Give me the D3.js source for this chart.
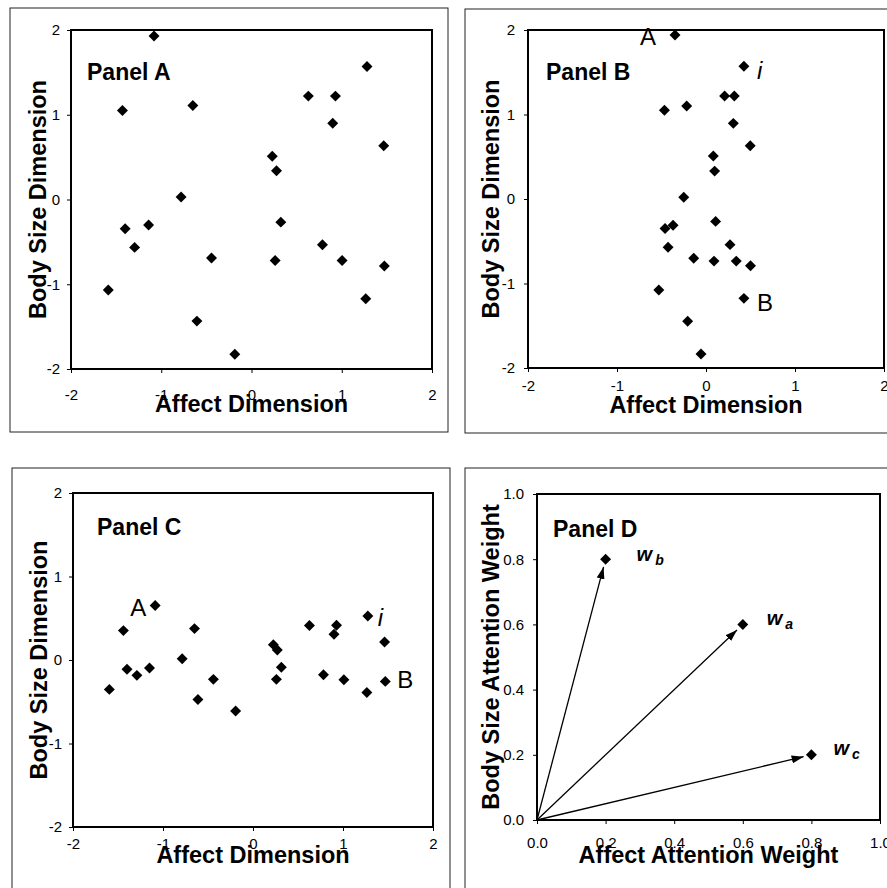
<!DOCTYPE html>
<html>
<head>
<meta charset="utf-8">
<script src="https://cdn.jsdelivr.net/npm/d3@7"></script>
<style>
  body { margin: 0; background: #fff; }
  text { font-family: "Liberation Sans", Arial, sans-serif; fill: #000; }
</style>
</head>
<body>
<script>
// data (same 24 stimuli in A-C)
const affectA = [-1.08, 1.28, -1.43, -0.65, 0.63, 0.93, 0.90, 1.465, 0.23, 0.277, -0.78, -1.40, -1.14, -1.295, 0.325, -0.443, 0.262, 0.786, 1.004, 1.472, -1.587, 1.266, -0.605, -0.185];
const bodyA   = [1.93, 1.57, 1.05, 1.11, 1.22, 1.22, 0.90, 0.635, 0.51, 0.34, 0.03, -0.345, -0.30, -0.565, -0.267, -0.69, -0.72, -0.533, -0.72, -0.784, -1.067, -1.17, -1.435, -1.827];

const affectB = [-0.348, 0.426, -0.467, -0.217, 0.209, 0.318, 0.307, 0.497, 0.082, 0.097, -0.25, -0.46, -0.37, -0.426, 0.108, -0.138, 0.09, 0.27, 0.34, 0.50, -0.53, 0.426, -0.206, -0.056];
const bodyB   = [1.94, 1.57, 1.05, 1.10, 1.22, 1.22, 0.895, 0.63, 0.51, 0.33, 0.02, -0.35, -0.31, -0.57, -0.265, -0.70, -0.735, -0.54, -0.735, -0.79, -1.077, -1.176, -1.446, -1.834];

const affectC = [-1.087, 1.276, -1.44, -0.65, 0.627, 0.928, 0.90, 1.462, 0.226, 0.27, -0.787, -1.40, -1.15, -1.29, 0.315, -0.44, 0.26, 0.783, 1.01, 1.47, -1.596, 1.265, -0.612, -0.193];
const bodyC   = [0.652, 0.528, 0.352, 0.376, 0.412, 0.416, 0.308, 0.216, 0.184, 0.12, 0.016, -0.112, -0.096, -0.184, -0.088, -0.232, -0.232, -0.176, -0.236, -0.256, -0.352, -0.388, -0.472, -0.612];

const weightNames  = ["a", "b", "c"];
const weightAffect = [0.6, 0.2, 0.8];
const weightBody   = [0.6, 0.8, 0.2];

const dimTicks = [-2, -1, 0, 1, 2];
const weightTicks = [0, 0.2, 0.4, 0.6, 0.8, 1.0];

const W = 887, H = 888;

const svg = d3.select("body")
  .append("svg")
  .attr("width", W)
  .attr("height", H);

const zip = (xs, ys) => xs.map((v, i) => ({ x: v, y: ys[i] }));

// panel layouts (pixels)
const panels = [
  { name: "Panel A", box: [10, 8, 448, 432], plot: [71, 30, 432, 369],
    xDomain: [-2, 2], yDomain: [-2, 2], ticks: dimTicks, fmt: d => String(d),
    xTitle: "Affect Dimension", yTitle: "Body Size Dimension",
    xPad: 16, yPad: 7, xTitleOff: 43, yTitleOff: 25, nameOff: [16, 50],
    points: zip(affectA, bodyA), notes: [] },
  { name: "Panel B", box: [465, 9, 895, 433], plot: [528, 30, 884, 368],
    xDomain: [-2, 2], yDomain: [-2, 2], ticks: dimTicks, fmt: d => String(d),
    xTitle: "Affect Dimension", yTitle: "Body Size Dimension",
    xPad: 8, yPad: 9, xTitleOff: 45, yTitleOff: 29, nameOff: [18, 50],
    points: zip(affectB, bodyB),
    notes: [
      { t: "A", i: 0, dx: -19, dy: 10, anchor: "end" },
      { t: "i", i: 1, dx: 13, dy: 13, anchor: "start", italic: true },
      { t: "B", i: 21, dx: 13, dy: 13, anchor: "start" }
    ] },
  { name: "Panel C", box: [12, 468, 450, 895], plot: [73, 493, 433, 827],
    xDomain: [-2, 2], yDomain: [-2, 2], ticks: dimTicks, fmt: d => String(d),
    xTitle: "Affect Dimension", yTitle: "Body Size Dimension",
    xPad: 7, yPad: 7, xTitleOff: 36, yTitleOff: 26, nameOff: [24, 42],
    points: zip(affectC, bodyC),
    notes: [
      { t: "A", i: 0, dx: -9, dy: 10, anchor: "end" },
      { t: "i", i: 1, dx: 10, dy: 10, anchor: "start", italic: true },
      { t: "B", i: 19, dx: 12, dy: 7, anchor: "start" }
    ] },
  { name: "Panel D", box: [465, 468, 895, 895], plot: [537, 494, 880, 820],
    xDomain: [0, 1], yDomain: [0, 1], ticks: weightTicks, fmt: d3.format(".1f"),
    xTitle: "Affect Attention Weight", yTitle: "Body Size Attention Weight",
    xPad: 13, yPad: 9, xTitleOff: 43, yTitleOff: 38, nameOff: [16, 43],
    points: zip(weightAffect, weightBody), notes: [] }
];

// arrowhead for panel D
svg.append("defs").append("marker")
  .attr("id", "arrow")
  .attr("viewBox", "0 0 12 8")
  .attr("refX", 12)
  .attr("refY", 4)
  .attr("markerWidth", 12)
  .attr("markerHeight", 8)
  .attr("markerUnits", "userSpaceOnUse")
  .attr("orient", "auto")
  .append("path")
  .attr("d", "M0,0 L12,4 L0,8 Z")
  .attr("fill", "#000");

const diamond = d3.symbol(d3.symbolSquare, 60);

panels.forEach((p, k) => {
  const [l, t, r, b] = p.plot;
  const x = d3.scaleLinear().domain(p.xDomain).range([l, r]);
  const y = d3.scaleLinear().domain(p.yDomain).range([b, t]);

  // outer panel border
  svg.append("rect")
    .attr("x", p.box[0]).attr("y", p.box[1])
    .attr("width", p.box[2] - p.box[0]).attr("height", p.box[3] - p.box[1])
    .attr("fill", "none").attr("stroke", "#222").attr("stroke-width", 1);

  const gx = svg.append("g")
    .attr("transform", `translate(0,${b})`)
    .call(d3.axisBottom(x).tickValues(p.ticks).tickSize(4).tickPadding(p.xPad).tickFormat(p.fmt));
  const gy = svg.append("g")
    .attr("transform", `translate(${l},0)`)
    .call(d3.axisLeft(y).tickValues(p.ticks).tickSize(4).tickPadding(p.yPad).tickFormat(p.fmt));
  [gx, gy].forEach(g => {
    g.attr("font-size", null).attr("font-family", null);
    g.select(".domain").remove();
    g.selectAll("line").attr("stroke", "#000");
    g.selectAll("text").style("font-size", "15px").attr("fill", "#000");
  });

  // plot frame
  svg.append("rect")
    .attr("x", l).attr("y", t)
    .attr("width", r - l).attr("height", b - t)
    .attr("fill", "none").attr("stroke", "#000").attr("stroke-width", 2);

  // titles
  svg.append("text")
    .attr("x", (l + r) / 2).attr("y", b + p.xTitleOff)
    .attr("text-anchor", "middle")
    .attr("font-size", "23.5px").attr("font-weight", "bold")
    .text(p.xTitle);
  svg.append("text")
    .attr("transform", `translate(${l - p.yTitleOff},${(t + b) / 2}) rotate(-90)`)
    .attr("text-anchor", "middle")
    .attr("font-size", "23.5px").attr("font-weight", "bold")
    .text(p.yTitle);
  svg.append("text")
    .attr("x", l + p.nameOff[0]).attr("y", t + p.nameOff[1])
    .attr("font-size", "23px").attr("font-weight", "bold")
    .text(p.name);

  // arrows (panel D)
  if (k === 3) {
    const ox = x(0), oy = y(0);
    svg.selectAll(".vec")
      .data(p.points)
      .enter()
      .append("line")
      .attr("x1", ox).attr("y1", oy)
      .attr("x2", d => { const dx = x(d.x) - ox, dy = y(d.y) - oy, len = Math.hypot(dx, dy); return x(d.x) - 8 * dx / len; })
      .attr("y2", d => { const dx = x(d.x) - ox, dy = y(d.y) - oy, len = Math.hypot(dx, dy); return y(d.y) - 8 * dy / len; })
      .attr("stroke", "#000").attr("stroke-width", 1.3)
      .attr("marker-end", "url(#arrow)");
  }

  svg.append("g").selectAll("path")
    .data(p.points)
    .enter()
    .append("path")
    .attr("d", diamond)
    .attr("transform", d => `translate(${x(d.x)},${y(d.y)}) rotate(45)`)
    .attr("fill", "#000");

  p.notes.forEach(n => {
    const d = p.points[n.i];
    svg.append("text")
      .attr("x", x(d.x) + n.dx).attr("y", y(d.y) + n.dy)
      .attr("text-anchor", n.anchor)
      .attr("font-size", "24px")
      .attr("font-style", n.italic ? "italic" : null)
      .text(n.t);
  });

  if (k === 3) {
    const wOff = [[24, 1], [31, 2], [22, 0]];
    p.points.forEach((d, i) => {
      const lab = svg.append("text")
        .attr("x", x(d.x) + wOff[i][0]).attr("y", y(d.y) + wOff[i][1])
        .attr("font-size", "20px").attr("font-weight", "bold").attr("font-style", "italic");
      lab.append("tspan").text("w");
      lab.append("tspan").attr("dx", 3).attr("dy", 4).attr("font-size", "14px").text(weightNames[i]);
    });
  }
});
</script>
</body>
</html>
